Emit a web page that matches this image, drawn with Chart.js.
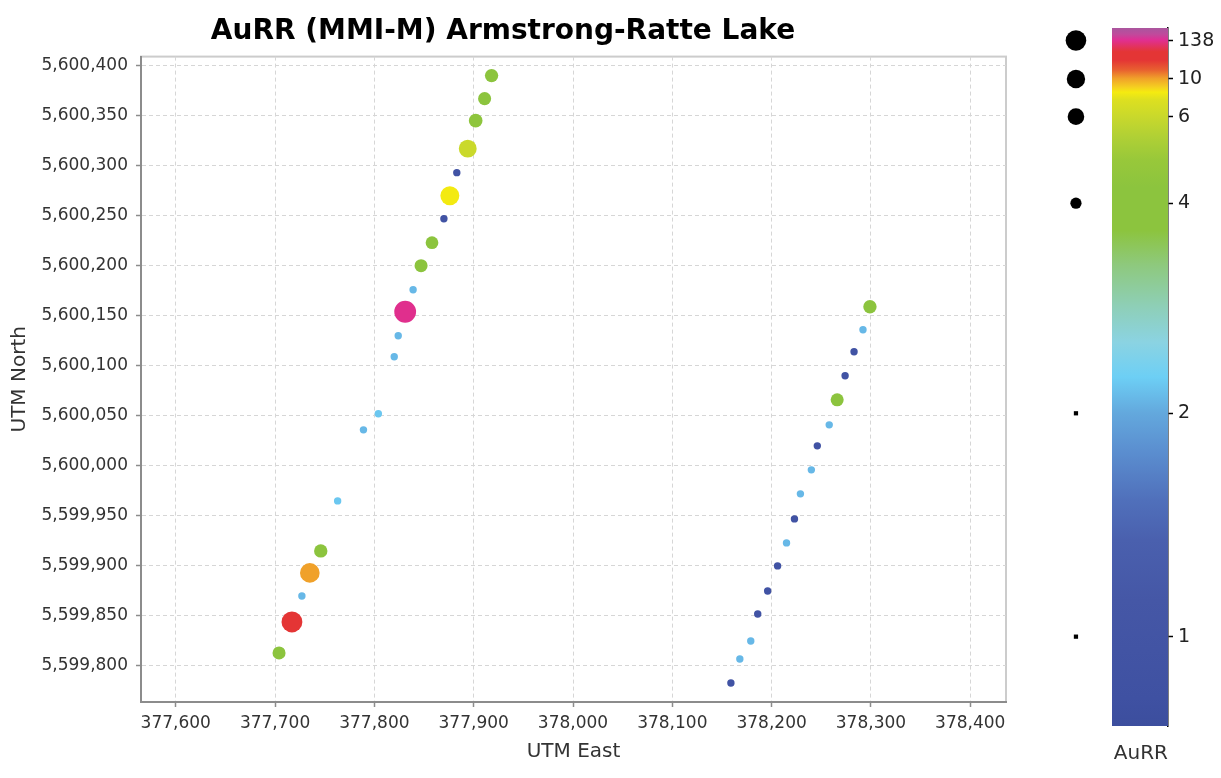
<!DOCTYPE html>
<html>
<head>
<meta charset="utf-8">
<title>AuRR (MMI-M) Armstrong-Ratte Lake</title>
<script src="https://cdn.jsdelivr.net/npm/chart.js@4/dist/chart.umd.min.js"></script>
<style>
  html, body { margin: 0; padding: 0; background: #fff; overflow: hidden; }
  #plot  { position: absolute; left: 0; top: 0; }
  #scale { position: absolute; left: 1010px; top: 0; }
</style>
</head>
<body>
<canvas id="plot" width="1010" height="778"></canvas>
<canvas id="scale" width="211" height="778"></canvas>
<script>
// ---- Sample traverse A (western line), north to south ----
const lineAEast  = [377918, 377911, 377902, 377894, 377883, 377876, 377870, 377858, 377847, 377839, 377831,
                    377824, 377820, 377804, 377789, 377763, 377746, 377735, 377727, 377717, 377704];
const lineANorth = [5600390, 5600367, 5600345, 5600317, 5600293, 5600270, 5600247, 5600223, 5600200, 5600176, 5600154,
                    5600130, 5600109, 5600052, 5600036, 5599965, 5599915, 5599893, 5599870, 5599844, 5599813];
const lineAAuRR  = [4.3, 4.2, 4.4, 6.1, 0.85, 8.3, 0.85, 4.1, 4.2, 2.1, 138,
                    2.1, 2.1, 2.2, 2.1, 2.2, 4.3, 10.4, 2.1, 45, 4.2];

// ---- Sample traverse B (eastern line), north to south ----
const lineBEast  = [378299, 378292, 378283, 378274, 378266, 378258, 378246, 378240, 378229,
                    378223, 378215, 378206, 378196, 378186, 378179, 378168, 378159];
const lineBNorth = [5600159, 5600136, 5600114, 5600090, 5600066, 5600041, 5600020, 5599996, 5599972,
                    5599947, 5599923, 5599900, 5599875, 5599852, 5599825, 5599807, 5599783];
const lineBAuRR  = [4.3, 2.1, 0.85, 0.85, 4.2, 2.1, 0.85, 2.1, 2.1,
                    0.85, 2.1, 0.85, 0.85, 0.85, 2.1, 2.1, 0.85];

// ---- Axis ticks ----
const eastTicks  = [377600, 377700, 377800, 377900, 378000, 378100, 378200, 378300, 378400];
const northTicks = [5599800, 5599850, 5599900, 5599950, 5600000, 5600050, 5600100, 5600150,
                    5600200, 5600250, 5600300, 5600350, 5600400];
const auTicks    = [1, 2, 4, 6, 10, 138];

// ---- Colour scale: AuRR value -> position along the ramp (0 bottom, 1 top) ----
const rampValues    = [0.5, 1, 2, 4, 6, 10, 138, 180];
const rampPositions = [0, 0.128, 0.448, 0.749, 0.873, 0.927, 0.982, 1];
const rampStops = [
  [0.000, '#3c4e9e'], [0.040, '#3f51a2'], [0.180, '#4557a6'], [0.266, '#4a60ae'],
  [0.324, '#5070bb'], [0.395, '#5b8fd0'], [0.448, '#63a8dd'], [0.500, '#6dcff5'],
  [0.550, '#8bd3e2'], [0.600, '#8ecfb8'], [0.660, '#8ec97e'], [0.710, '#8cc43e'],
  [0.772, '#8cc43e'], [0.811, '#98c83a'], [0.844, '#b0d035'], [0.872, '#c8d82c'],
  [0.897, '#dde020'], [0.908, '#f5eb10'], [0.915, '#f5d020'], [0.928, '#f0a02a'],
  [0.940, '#e86030'], [0.954, '#e43535'], [0.966, '#e43535'], [0.983, '#e02f93'],
  [0.991, '#c04a9c'], [1.000, '#aa569e']
];
// Symbol size classes
const sizeValues = [1, 2, 4, 6, 10, 138];
const sizeRadii  = [1.5, 1.5, 5.6, 8.3, 9.2, 10.3];

function interpLog(v, xs, ys) {
  if (v <= xs[0]) return ys[0];
  for (let i = 1; i < xs.length; i++) {
    if (v <= xs[i]) {
      const a = Math.log(xs[i - 1]), b = Math.log(xs[i]);
      const t = (Math.log(v) - a) / (b - a);
      return ys[i - 1] + t * (ys[i] - ys[i - 1]);
    }
  }
  return ys[ys.length - 1];
}
const rampPos = v => interpLog(v, rampValues, rampPositions);
const sizeAt  = v => interpLog(v, sizeValues, sizeRadii);

function hexRgb(h) {
  const n = parseInt(h.slice(1), 16);
  return [(n >> 16) & 255, (n >> 8) & 255, n & 255];
}
function colourAtPos(p) {
  for (let i = 1; i < rampStops.length; i++) {
    if (p <= rampStops[i][0]) {
      const [p0, c0] = rampStops[i - 1], [p1, c1] = rampStops[i];
      const t = p1 === p0 ? 0 : (p - p0) / (p1 - p0);
      const a = hexRgb(c0), b = hexRgb(c1);
      const m = a.map((x, k) => Math.round(x + t * (b[k] - x)));
      return `rgb(${m[0]},${m[1]},${m[2]})`;
    }
  }
  return rampStops[rampStops.length - 1][1];
}
const colourOf = v => colourAtPos(rampPos(v));

function samples(east, north, au) {
  return east.map((x, i) => ({ x, y: north[i], v: au[i] }));
}

const FONT = 'DejaVu Sans';

const pointStyleOpts = {
  showLine: false,
  pointBackgroundColor: ctx => ctx.raw ? colourOf(ctx.raw.v) : '#000',
  pointBorderWidth: 0,
  pointBorderColor: 'rgba(0,0,0,0)',
  pointRadius: ctx => ctx.raw ? Math.max(3.7, sizeAt(ctx.raw.v) + 0.6) : 4,
  pointHoverRadius: ctx => ctx.raw ? Math.max(3.7, sizeAt(ctx.raw.v) + 0.6) : 4
};

// Light frame around the plotting area
const plotFrame = {
  id: 'plotFrame',
  beforeDraw(chart) {
    const { ctx, chartArea: a } = chart;
    ctx.save();
    ctx.strokeStyle = '#cccccc';
    ctx.lineWidth = 2;
    ctx.strokeRect(a.left, a.top, a.right - a.left, a.bottom - a.top);
    ctx.restore();
  }
};

new Chart(document.getElementById('plot'), {
  type: 'scatter',
  data: {
    datasets: [
      Object.assign({ label: 'Line A', data: samples(lineAEast, lineANorth, lineAAuRR) }, pointStyleOpts),
      Object.assign({ label: 'Line B', data: samples(lineBEast, lineBNorth, lineBAuRR) }, pointStyleOpts)
    ]
  },
  plugins: [plotFrame],
  options: {
    responsive: false,
    animation: false,
    devicePixelRatio: 1,
    layout: { autoPadding: false, padding: { top: 0, right: 4, bottom: 0, left: 0 } },
    plugins: {
      legend: { display: false },
      tooltip: { enabled: false },
      title: {
        display: true,
        text: 'AuRR (MMI-M) Armstrong-Ratte Lake',
        color: '#000',
        font: { family: FONT, size: 28, weight: 'bold' },
        padding: { top: 15, bottom: 8 }
      }
    },
    scales: {
      x: {
        type: 'linear',
        min: 377565, max: 378436,
        afterBuildTicks: s => { s.ticks = eastTicks.map(value => ({ value })); },
        afterFit: s => { s.height = 76; s.paddingLeft = 0; s.paddingRight = 0; },
        ticks: {
          callback: v => Number(v).toLocaleString('en-US'),
          font: { family: FONT, size: 17 }, color: '#333',
          padding: 6, maxRotation: 0, autoSkip: false
        },
        grid: { color: '#d6d6d6', lineWidth: 1, tickLength: 5, tickColor: '#8c8c8c', tickWidth: 1.5 },
        border: { color: '#8c8c8c', width: 2, dash: [4, 3] },
        title: {
          display: true, text: 'UTM East', color: '#333',
          font: { family: FONT, size: 20 }, padding: { top: 0, bottom: 14 }
        }
      },
      y: {
        type: 'linear',
        min: 5599764, max: 5600409,
        afterBuildTicks: s => { s.ticks = northTicks.map(value => ({ value })); },
        afterFit: s => { s.width = 141; s.paddingTop = 0; s.paddingBottom = 0; },
        ticks: {
          callback: v => Number(v).toLocaleString('en-US'),
          font: { family: FONT, size: 17 }, color: '#333',
          padding: 8, autoSkip: false
        },
        grid: { color: '#d6d6d6', lineWidth: 1, tickLength: 5, tickColor: '#8c8c8c', tickWidth: 1.5 },
        border: { color: '#8c8c8c', width: 2, dash: [4, 3] },
        title: {
          display: true, text: 'UTM North', color: '#333',
          font: { family: FONT, size: 20 }, padding: { top: 8, bottom: 0 }
        }
      }
    }
  }
});

// ---- Colour ramp with symbol-size key ----
// The key panel's x axis runs 0..1 across both the symbol column and the ramp.
const keyColumnX = 0.22;     // centre of the symbol-size column
const rampLeftX  = 0.525;    // left edge of the colour ramp
function rampGradient(ctx) {
  const chart = ctx.chart;
  const a = chart.chartArea;
  if (!a) return 'rgba(0,0,0,0)';
  const g = chart.ctx.createLinearGradient(0, a.bottom, 0, a.top);
  rampStops.forEach(([p, c]) => g.addColorStop(p, c));
  return g;
}

new Chart(document.getElementById('scale'), {
  type: 'line',
  data: {
    datasets: [
      {
        label: 'ramp',
        data: [{ x: rampLeftX, y: 1 }, { x: 1, y: 1 }],
        fill: 'start',
        backgroundColor: rampGradient,
        borderWidth: 0,
        pointRadius: 0,
        order: 2
      },
      {
        label: 'size key',
        data: auTicks.map(v => ({ x: keyColumnX, y: rampPos(v), v })),
        showLine: false,
        clip: false,
        pointBackgroundColor: '#000',
        pointBorderWidth: 0,
        pointStyle: ctx => (ctx.raw && ctx.raw.v <= 2) ? 'rect' : 'circle',
        pointRadius: ctx => ctx.raw ? (ctx.raw.v <= 2 ? 3 : sizeAt(ctx.raw.v)) : 3,
        order: 1
      }
    ]
  },
  options: {
    responsive: false,
    animation: false,
    devicePixelRatio: 1,
    layout: { autoPadding: false, padding: { left: 40, top: 28, right: 0, bottom: 0 } },
    plugins: { legend: { display: false }, tooltip: { enabled: false } },
    scales: {
      x: {
        type: 'linear', min: 0, max: 1,
        afterFit: s => { s.height = 52; s.paddingLeft = 0; s.paddingRight = 0; },
        ticks: { display: false },
        grid: { display: false },
        border: { display: false },
        title: {
          display: true, text: 'AuRR', color: '#333', align: 'end',
          font: { family: FONT, size: 20 }, padding: { top: 0, bottom: 12 }
        }
      },
      y: {
        type: 'linear', position: 'right', min: 0, max: 1,
        afterBuildTicks: s => { s.ticks = auTicks.map(v => ({ value: rampPos(v) })); },
        afterFit: s => { s.width = 53; s.paddingTop = 0; s.paddingBottom = 0; },
        ticks: {
          callback: (val, i) => String(auTicks[i]),
          font: { family: FONT, size: 19 }, color: '#222',
          padding: 5, autoSkip: false
        },
        grid: { drawOnChartArea: false, tickLength: 5, tickColor: '#000', tickWidth: 1.5 },
        border: { color: '#000', width: 1.5 }
      }
    }
  }
});
</script>
</body>
</html>
